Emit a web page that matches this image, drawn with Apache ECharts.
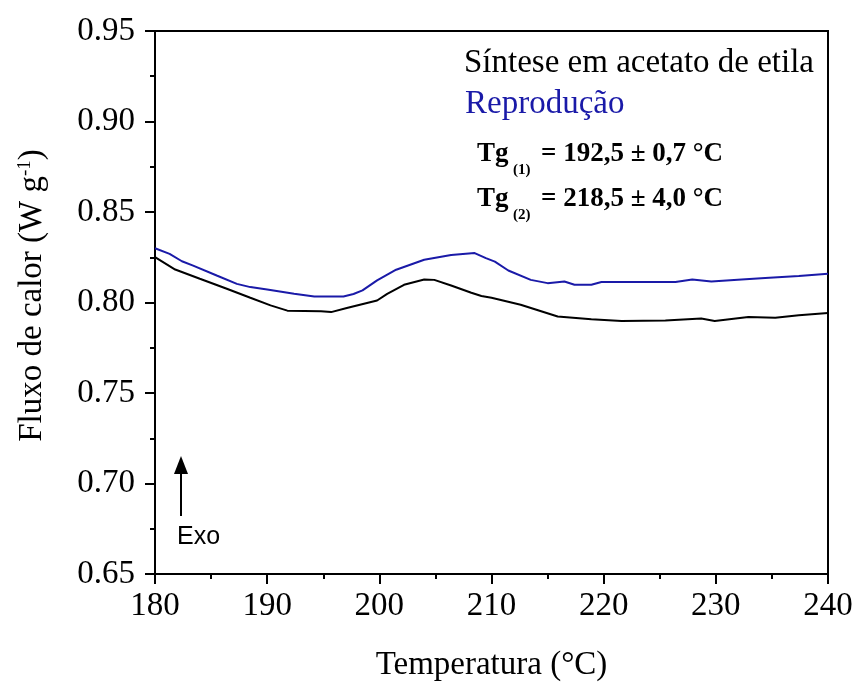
<!DOCTYPE html>
<html>
<head>
<meta charset="utf-8">
<script src="https://cdn.jsdelivr.net/npm/echarts@6/dist/echarts.min.js"></script>
<style>
  html, body { margin: 0; padding: 0; background: #fff; }
  #chart { width: 861px; height: 687px; }
</style>
</head>
<body>
<div id="chart"></div>
<script>
// DSC curves: heat flow vs temperature, two syntheses in ethyl acetate
const tempSintese = [180.0, 181.8, 184.0, 186.4, 188.5, 190.3, 191.8, 194.8, 195.7, 197.1, 199.8, 200.7, 202.2, 204.0, 204.9, 206.4, 208.2, 209.1, 210.0, 212.6, 215.9, 218.9, 221.6, 225.5, 228.7, 229.9, 232.9, 235.3, 237.4, 240.0];
const fluxSintese = [0.8251, 0.8182, 0.8131, 0.8076, 0.8026, 0.7984, 0.7955, 0.7951, 0.7947, 0.7970, 0.8011, 0.8048, 0.8098, 0.8127, 0.8125, 0.8094, 0.8054, 0.8036, 0.8026, 0.7988, 0.7923, 0.7907, 0.7898, 0.7901, 0.7911, 0.7898, 0.7920, 0.7916, 0.7929, 0.7942];

const tempReproducao = [180.0, 181.3, 182.4, 183.4, 185.5, 187.3, 188.5, 190.0, 192.4, 194.2, 196.8, 197.7, 198.5, 199.8, 201.5, 204.0, 206.4, 208.5, 209.5, 210.3, 211.5, 213.5, 215.0, 216.5, 217.4, 218.9, 219.8, 222.5, 226.4, 227.9, 229.6, 232.3, 234.4, 237.4, 240.0];
const fluxReproducao = [0.8300, 0.8269, 0.8228, 0.8204, 0.8149, 0.8103, 0.8085, 0.8072, 0.8048, 0.8033, 0.8033, 0.8047, 0.8067, 0.8122, 0.8181, 0.8236, 0.8263, 0.8273, 0.8245, 0.8226, 0.8177, 0.8125, 0.8107, 0.8116, 0.8098, 0.8098, 0.8113, 0.8113, 0.8113, 0.8127, 0.8116, 0.8127, 0.8135, 0.8146, 0.8159];

const xTicks = [180, 190, 200, 210, 220, 230, 240];
const yTicks = ['0.65', '0.70', '0.75', '0.80', '0.85', '0.90', '0.95'];

const serif = 'Liberation Serif';
const sans = 'Liberation Sans';
const blue = '#1a1aa8';

function pairs(xs, ys) { return xs.map((x, i) => [x, ys[i]]); }

const chart = echarts.init(document.getElementById('chart'), null, { renderer: 'canvas' });

chart.setOption({
  animation: false,
  backgroundColor: '#fff',
  grid: {
    left: 155, right: 33, top: 31, bottom: 111,
    show: true, borderColor: '#000', borderWidth: 2, backgroundColor: 'transparent'
  },
  xAxis: {
    type: 'value',
    min: xTicks[0], max: xTicks[xTicks.length - 1], interval: 10,
    name: 'Temperatura (°C)',
    nameLocation: 'middle', nameGap: 75,
    nameTextStyle: { fontFamily: serif, fontSize: 33, color: '#000' },
    axisLine: { lineStyle: { color: '#000', width: 2 } },
    axisTick: { inside: false, length: 10, lineStyle: { color: '#000', width: 2 } },
    minorTick: { show: true, splitNumber: 2, length: 5, lineStyle: { color: '#000', width: 2 } },
    splitLine: { show: false },
    axisLabel: { fontFamily: serif, fontSize: 33, color: '#000', margin: 16 }
  },
  yAxis: {
    type: 'value',
    min: 0.65, max: 0.95, interval: 0.05,
    name: 'Fluxo de calor (W g{sup|-1})',
    nameLocation: 'middle', nameGap: 106, nameRotate: 90,
    nameTextStyle: {
      fontFamily: serif, fontSize: 33, color: '#000', padding: [0, 0, 0, 14],
      rich: { sup: { fontFamily: serif, fontSize: 19, color: '#000', verticalAlign: 'top', padding: [0, 0, 12, 0] } }
    },
    axisLine: { lineStyle: { color: '#000', width: 2 } },
    axisTick: { inside: false, length: 10, lineStyle: { color: '#000', width: 2 } },
    minorTick: { show: true, splitNumber: 2, length: 5, lineStyle: { color: '#000', width: 2 } },
    splitLine: { show: false },
    axisLabel: {
      fontFamily: serif, fontSize: 33, color: '#000', margin: 20,
      formatter: v => yTicks[Math.round((v - 0.65) / 0.05)]
    }
  },
  series: [
    {
      name: 'Síntese em acetato de etila', type: 'line',
      data: pairs(tempSintese, fluxSintese),
      showSymbol: false, smooth: false,
      lineStyle: { color: '#000', width: 2 }
    },
    {
      name: 'Reprodução', type: 'line',
      data: pairs(tempReproducao, fluxReproducao),
      showSymbol: false, smooth: false,
      lineStyle: { color: blue, width: 2 }
    }
  ],
  graphic: [
    { type: 'text', x: 464, y: 63, style: { text: 'Síntese em acetato de etila', font: '33px ' + serif, fill: '#000', verticalAlign: 'middle' } },
    { type: 'text', x: 465, y: 104, style: { text: 'Reprodução', font: '33px ' + serif, fill: blue, verticalAlign: 'middle' } },

    { type: 'text', x: 477, y: 154, style: { text: 'Tg', font: 'bold 27px ' + serif, fill: '#000', verticalAlign: 'middle' } },
    { type: 'text', x: 513, y: 170, style: { text: '(1)', font: 'bold 15px ' + serif, fill: '#000', verticalAlign: 'middle' } },
    { type: 'text', x: 541, y: 154, style: { text: '= 192,5 ± 0,7 °C', font: 'bold 27px ' + serif, fill: '#000', verticalAlign: 'middle' } },

    { type: 'text', x: 477, y: 199, style: { text: 'Tg', font: 'bold 27px ' + serif, fill: '#000', verticalAlign: 'middle' } },
    { type: 'text', x: 513, y: 215, style: { text: '(2)', font: 'bold 15px ' + serif, fill: '#000', verticalAlign: 'middle' } },
    { type: 'text', x: 541, y: 199, style: { text: '= 218,5 ± 4,0 °C', font: 'bold 27px ' + serif, fill: '#000', verticalAlign: 'middle' } },

    // exothermic direction marker
    { type: 'line', shape: { x1: 181, y1: 516, x2: 181, y2: 470 }, style: { stroke: '#000', lineWidth: 2 } },
    { type: 'polygon', shape: { points: [[174, 474], [188, 474], [181, 456]] }, style: { fill: '#000' } },
    { type: 'text', x: 177, y: 537, style: { text: 'Exo', font: '25px ' + sans, fill: '#000', verticalAlign: 'middle' } }
  ]
});
</script>
</body>
</html>
